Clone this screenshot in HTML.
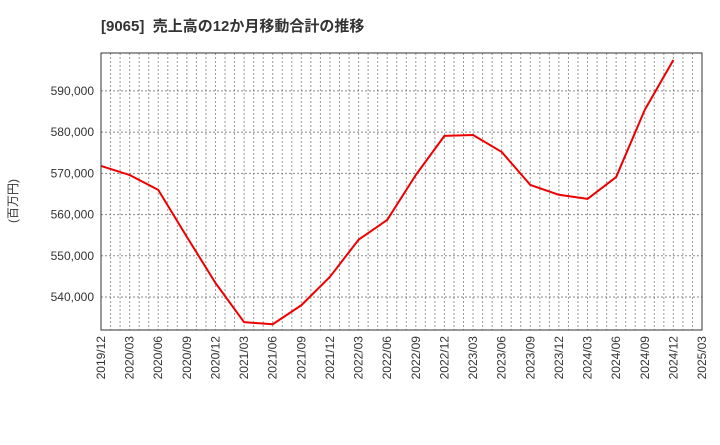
<!DOCTYPE html>
<html><head><meta charset="utf-8"><style>
body{margin:0;background:#fff;font-family:"Liberation Sans","Noto Sans CJK JP",sans-serif;}
</style></head><body>
<svg id="chart" width="720" height="440" xmlns="http://www.w3.org/2000/svg" style="font-family:'Liberation Sans','Noto Sans CJK JP',sans-serif">
<text x="101" y="31" font-size="15" font-weight="bold" fill="#333">[9065]&#160;&#160;売上高の12か月移動合計の推移</text>
<text transform="translate(17,201) rotate(-90)" text-anchor="middle" font-size="12" fill="#333">(百万円)</text>
<g id="grid"></g><g id="axes"></g><g id="series"></g>
<rect x="101" y="53" width="601" height="277" fill="none" stroke="#333" stroke-width="1"/>
</svg>
<script>
const categories=["2019/12","2020/03","2020/06","2020/09","2020/12","2021/03","2021/06","2021/09","2021/12","2022/03","2022/06","2022/09","2022/12","2023/03","2023/06","2023/09","2023/12","2024/03","2024/06","2024/09","2024/12"];
const values=[571800,569600,566000,554600,543400,533900,533400,538000,544900,553900,558700,569600,579100,579300,575200,567200,564800,563800,569100,585400,597500];
const xTickLabels=["2019/12","2020/03","2020/06","2020/09","2020/12","2021/03","2021/06","2021/09","2021/12","2022/03","2022/06","2022/09","2022/12","2023/03","2023/06","2023/09","2023/12","2024/03","2024/06","2024/09","2024/12","2025/03"];
const yTicks=[540000,550000,560000,570000,580000,590000];
const NS="http://www.w3.org/2000/svg";
const L=101,R=702,T=53,B=330,yMin=532000,yMax=599200;
const nQ=xTickLabels.length-1;
function x(i){return L+(R-L)*i/nQ;}
function y(v){return B-(v-yMin)/(yMax-yMin)*(B-T);}
function mk(t,a,p){const e=document.createElementNS(NS,t);for(const k in a)e.setAttribute(k,a[k]);p.appendChild(e);return e;}
const grid=document.getElementById('grid'),axes=document.getElementById('axes'),series=document.getElementById('series');
for(let m=1;m<nQ*3;m++){const xx=L+(R-L)*m/(nQ*3);
const g=mk('line',{x1:xx,x2:xx,y1:T,y2:B,stroke:'#999','stroke-dasharray':'2,2','stroke-width':1},grid);

}
yTicks.forEach(v=>{const g=mk('line',{x1:L,x2:R,y1:y(v),y2:y(v),stroke:'#888','stroke-dasharray':'2,2','stroke-width':1},grid);


const t=mk('text',{x:L-7,y:y(v)+4,'text-anchor':'end','font-size':12,fill:'#333'},axes);t.textContent=v.toLocaleString('en-US');

});
xTickLabels.forEach((s,i)=>{const t=mk('text',{transform:`translate(${x(i)+4},336) rotate(-90)`,'text-anchor':'end','font-size':12,fill:'#333'},axes);t.textContent=s;

});
const p=mk('polyline',{points:values.map((v,i)=>x(i)+','+y(v)).join(' '),fill:'none',stroke:'#e00',"stroke-width":2,"stroke-linejoin":"round"},series);


</script>
</body></html>
